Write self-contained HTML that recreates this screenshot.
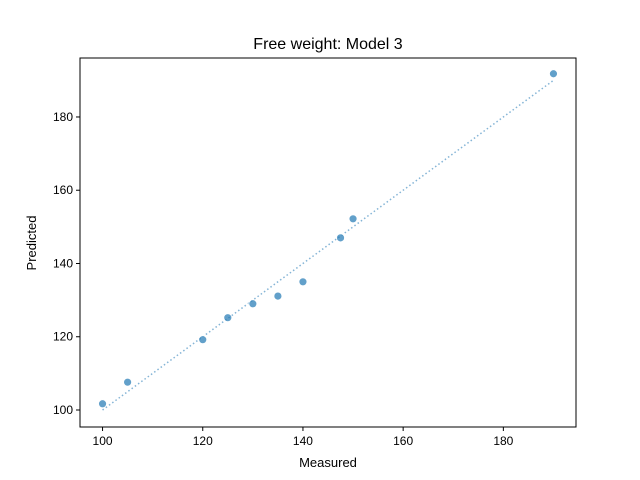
<!DOCTYPE html>
<html><head><meta charset="utf-8"><style>
body{margin:0;background:#fff}
svg{display:block;font-family:"Liberation Sans","DejaVu Sans",sans-serif}
</style></head><body>
<svg id="chart" width="640" height="480">
<rect width="640" height="480" fill="#fff"/>
<text x="328" y="49" font-size="16" text-anchor="middle">Free weight: Model 3</text>
<g id="plot"></g>
<rect x="80" y="58" width="496" height="369" fill="none" stroke="#000" stroke-width="1"/>
<text x="328" y="467" font-size="13" text-anchor="middle">Measured</text>
<text x="36" y="243" font-size="13" text-anchor="middle" transform="rotate(-90 36 243)">Predicted</text>
</svg>
<script>
const measured=[100,105,120,125,130,135,140,147.5,150,190];
const predicted=[101.7,107.6,119.2,125.2,129,131.1,135,147,152.2,191.8];
const xTicks=[100,120,140,160,180];
const yTicks=[100,120,140,160,180];
const lineRange=[100,190];
const X0=80,X1=576,Y0=427,Y1=58,xmin=95.5,xmax=194.5,ymin=95.36,ymax=196.1;
const sx=v=>X0+(v-xmin)/(xmax-xmin)*(X1-X0);
const sy=v=>Y0-(v-ymin)/(ymax-ymin)*(Y0-Y1);
const NS="http://www.w3.org/2000/svg";
const g=document.getElementById('plot');
function mk(t,a){const e=document.createElementNS(NS,t);for(const k in a)e.setAttribute(k,a[k]);g.appendChild(e);return e;}
xTicks.forEach(v=>{
  const l=mk('line',{x1:sx(v),x2:sx(v),y1:Y0,y2:Y0+4,stroke:'#000'});
  
  
  const t=mk('text',{x:sx(v),y:Y0+18,'font-size':12,'text-anchor':'middle'});t.textContent=v;
  
  
});
yTicks.forEach(v=>{
  const l=mk('line',{x1:X0-4,x2:X0,y1:sy(v),y2:sy(v),stroke:'#000'});
  
  
  const t=mk('text',{x:X0-7,y:sy(v)+4,'font-size':12,'text-anchor':'end'});t.textContent=v;
  
  
});
const ln=mk('line',{x1:sx(lineRange[0]),y1:sy(lineRange[0]),x2:sx(lineRange[1]),y2:sy(lineRange[1]),stroke:'#1f77b4','stroke-opacity':0.55,'stroke-width':1.5,'stroke-dasharray':'1.5,2.5'});


measured.forEach((m,i)=>{
  const c=mk('circle',{cx:sx(m),cy:sy(predicted[i]),r:4,fill:'#1f77b4','fill-opacity':0.7,stroke:'#fff','stroke-width':0.8});
  
  
});
</script>
</body></html>
